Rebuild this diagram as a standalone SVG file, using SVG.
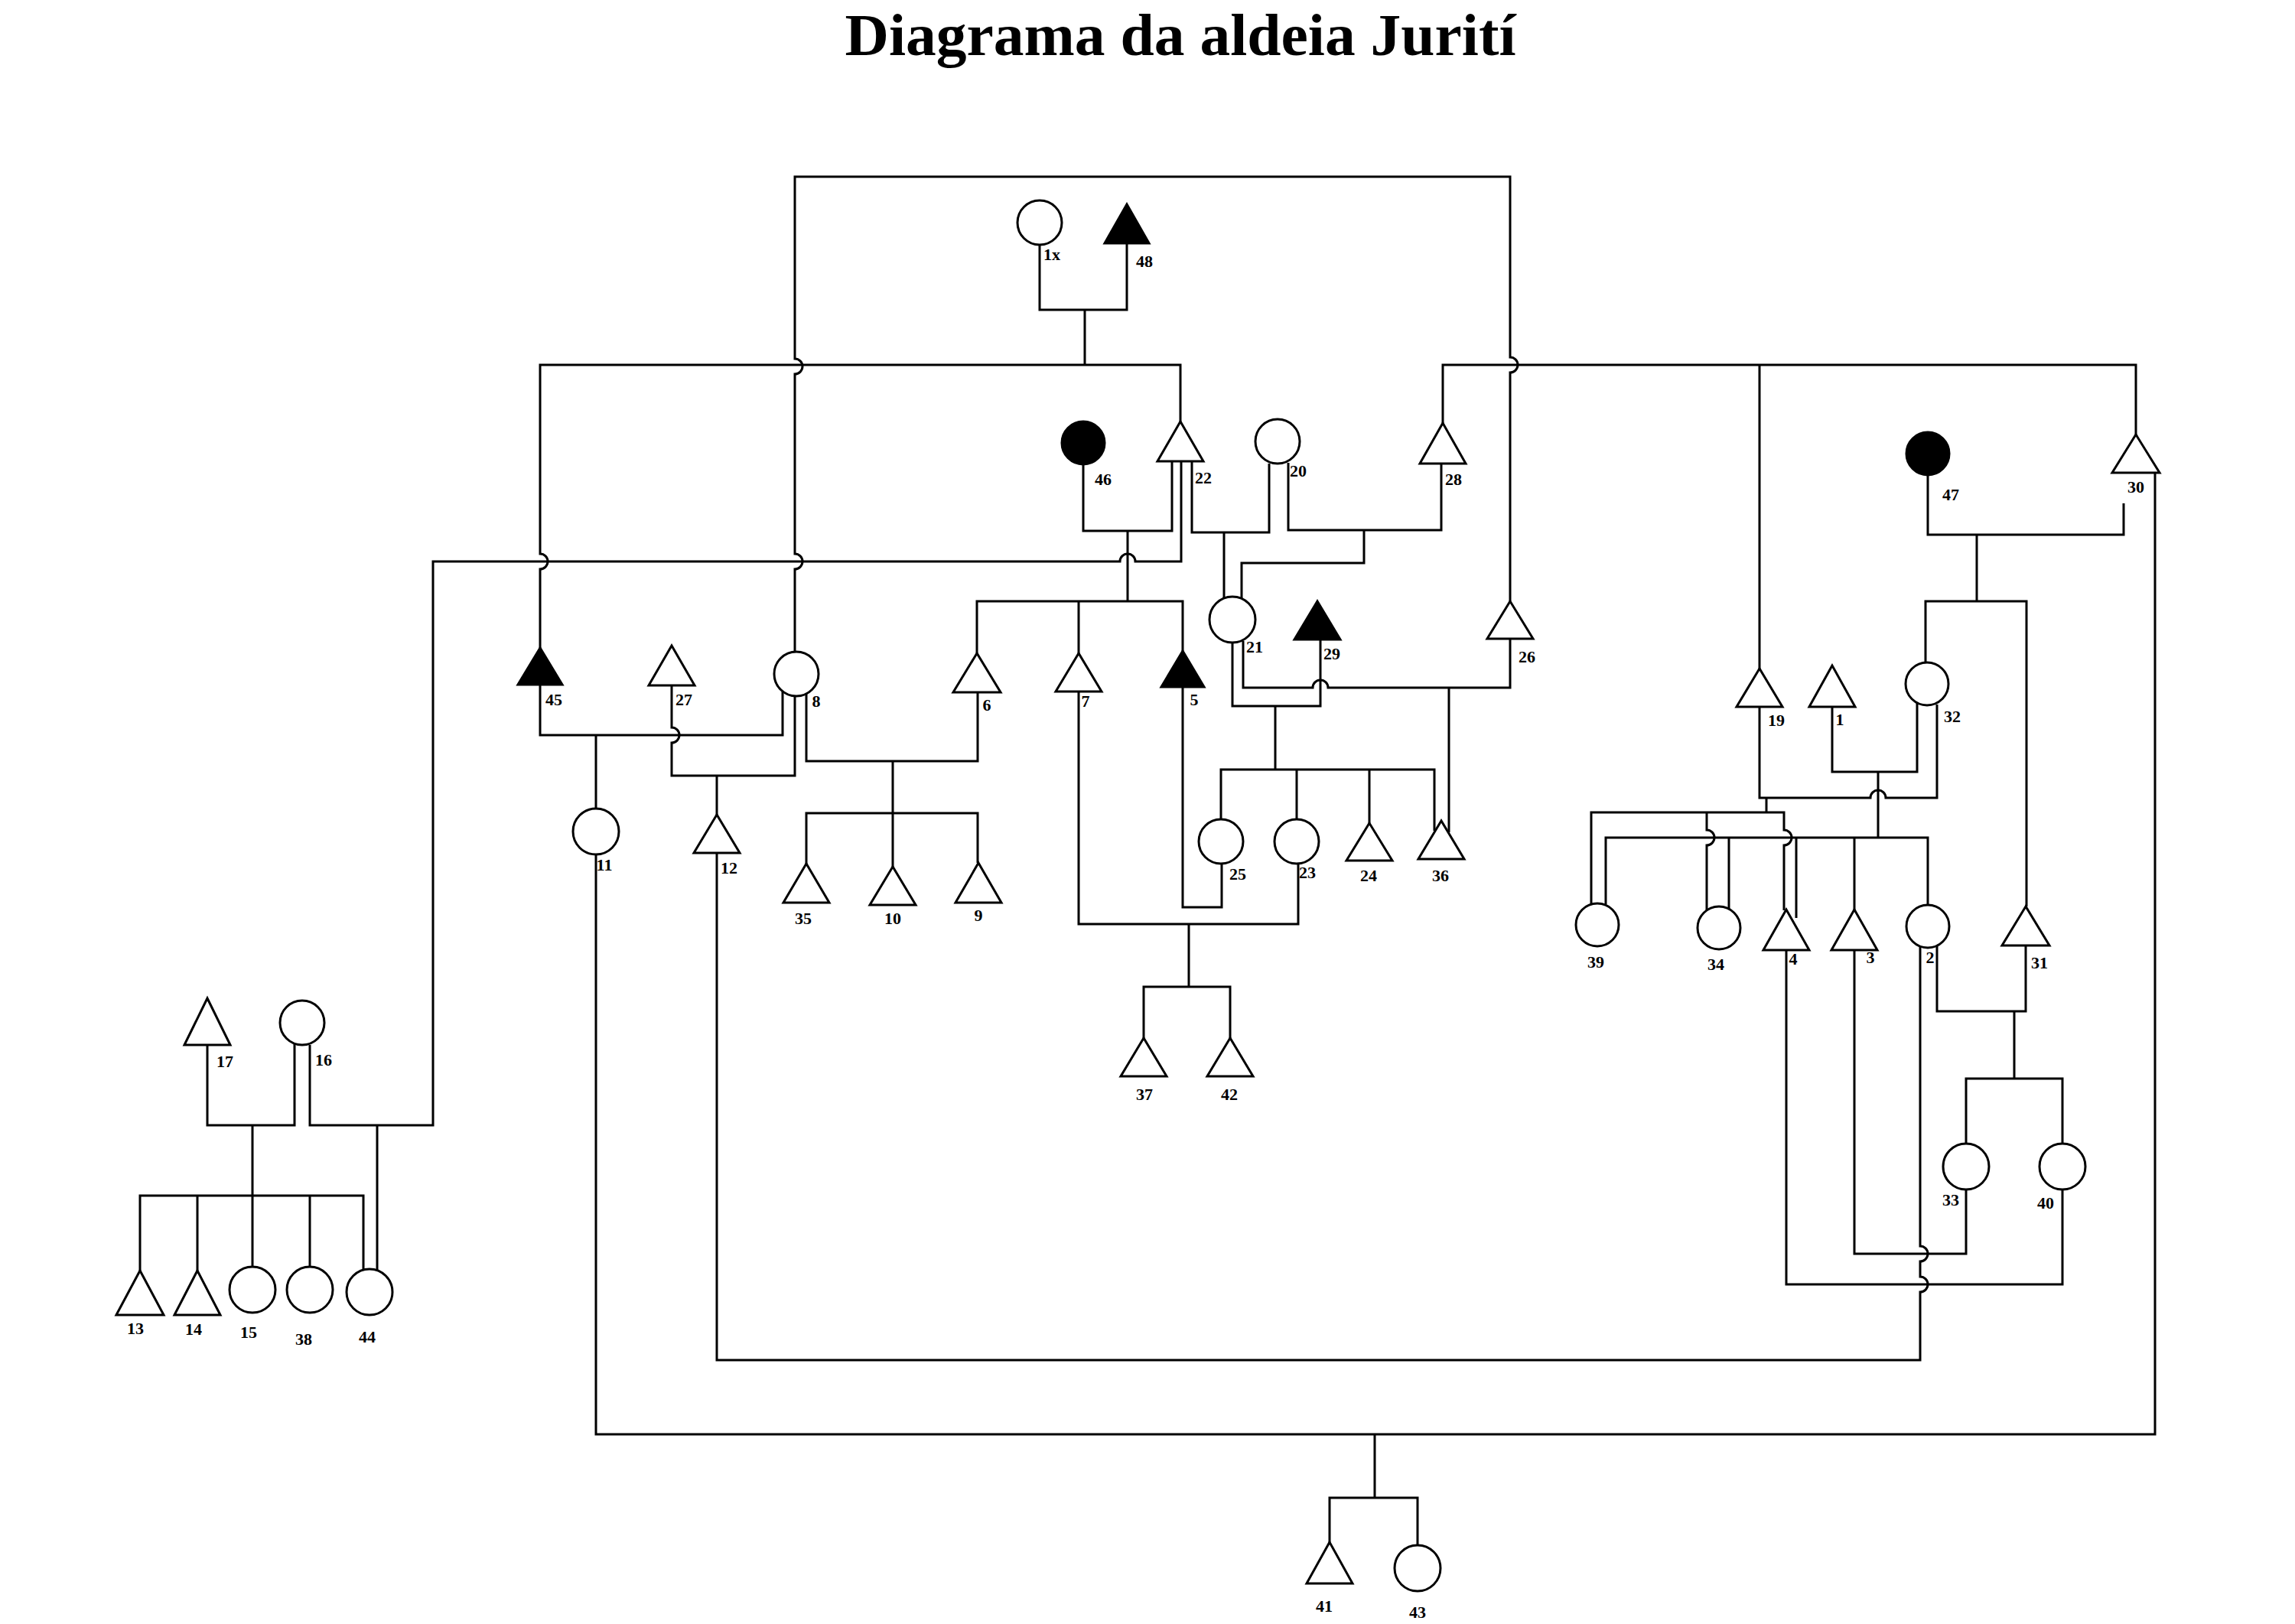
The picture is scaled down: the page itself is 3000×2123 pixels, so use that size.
<svg xmlns="http://www.w3.org/2000/svg" width="3000" height="2123" viewBox="0 0 3000 2123">
<style>
.ln{fill:none;stroke:#000;stroke-width:3}
.o{fill:#fff;stroke:#000;stroke-width:3}
.f{fill:#000;stroke:#000;stroke-width:3}
.lb{font-family:"Liberation Serif","Times New Roman",serif;font-weight:bold;font-size:22px;text-anchor:middle;fill:#000}
.t{font-family:"Liberation Serif","Times New Roman",serif;font-weight:bold;font-size:78px;text-anchor:middle;fill:#000}
</style>
<rect width="3000" height="2123" fill="#fff"/>
<text class="t" x="1543" y="72" textLength="877" lengthAdjust="spacingAndGlyphs">Diagrama da aldeia Jurití</text>
<g id="connectors" class="ln">
<path d="M1039,852 V744 A10 10 0 0 0 1039,724 V489 A10 10 0 0 0 1039,469 V231 H1974 V467 A10 10 0 0 1 1974,487 V786"/>
<path d="M1359,320 V405 H1473 V318 M1418,405 V477"/>
<path d="M706,847 V744 A10 10 0 0 0 706,724 V477 H1543 V551"/>
<path d="M1886,553 V477 H2792 V568 M2300,477 V874"/>
<path d="M1416,607 V694 H1532 V603 M1474,694 V786"/>
<path d="M1277,854 V786 H1546 V851 M1410,786 V854"/>
<path d="M1544,603 V734 H1484 A10 10 0 0 0 1464,734 H566 V1471 H405 V1366 M493,1471 V1661"/>
<path d="M1558,603 V696 H1659 V606 M1600,696 V782"/>
<path d="M1684,605 V693 H1884 V606 M1783,693 V736 H1623 V783"/>
<path d="M1611,840 V923 H1726 V836 M1667,923 V1006"/>
<path d="M1625,838 V899 H1716 A10 10 0 0 1 1736,899 H1974 V835 M1894,899 V1088"/>
<path d="M1596,1071 V1006 H1875 V1086 M1695,1006 V1071 M1790,1006 V1076"/>
<path d="M1546,898 V1186 H1597 V1129"/>
<path d="M1410,904 V1208 H1697 V1129 M1554,1208 V1290 M1495,1357 V1290 H1608 V1357"/>
<path d="M706,895 V961 H1023 V904 M779,961 V1057"/>
<path d="M878,896 V951 A10 10 0 0 1 878,971 V1014 H1039 V910 M937,1014 V1065"/>
<path d="M1054,906 V995 H1278 V905 M1167,995 V1133 M1054,1129 V1063 H1278 V1128"/>
<path d="M271,1366 V1471 H385 V1364 M330,1471 V1656 M183,1661 V1563 H475 V1661 M258,1563 V1661 M405,1563 V1656"/>
<path d="M779,1117 V1875 H2817 V618 M1797,1875 V1958 M1738,2016 V1958 H1853 V2020"/>
<path d="M937,1115 V1778 H2510 V1689 A10 10 0 0 0 2510,1669 V1649 A10 10 0 0 0 2510,1629 V1237"/>
<path d="M2424,1242 V1639 H2570 V1555"/>
<path d="M2335,1242 V1679 H2696 V1555"/>
<path d="M2532,1236 V1322 H2648 V1236 M2633,1322 V1410 M2570,1495 V1410 H2696 V1495"/>
<path d="M2520,621 V699 H2776 V658 M2584,699 V786 M2517,866 V786 H2649 V1185"/>
<path d="M2395,924 V1009 H2506 V919 M2455,1009 V1095"/>
<path d="M2300,924 V1043 H2445 A10 10 0 0 1 2465,1043 H2532 V921 M2309,1043 V1062"/>
<path d="M2080,1182 V1062 H2332 V1085 A10 10 0 0 1 2332,1105 V1190 M2231,1062 V1085 A10 10 0 0 1 2231,1105 V1190"/>
<path d="M2099,1182 V1095 H2520 V1183 M2260,1095 V1188 M2348,1095 V1200 M2424,1095 V1189"/>
</g>
<g id="n1x"><circle class="o" cx="1359" cy="291" r="29"/><text class="lb" x="1375" y="340">1x</text></g>
<g id="n48"><polygon class="f" points="1473,267 1444,318 1502,318"/><text class="lb" x="1496" y="349">48</text></g>
<g id="n46"><circle class="f" cx="1416" cy="579" r="28"/><text class="lb" x="1442" y="634">46</text></g>
<g id="n22"><polygon class="o" points="1543,551 1513,603 1573,603"/><text class="lb" x="1573" y="632">22</text></g>
<g id="n20"><circle class="o" cx="1670" cy="577" r="29"/><text class="lb" x="1697" y="623">20</text></g>
<g id="n28"><polygon class="o" points="1886,553 1856,606 1916,606"/><text class="lb" x="1900" y="634">28</text></g>
<g id="n45"><polygon class="f" points="706,847 677,895 735,895"/><text class="lb" x="724" y="922">45</text></g>
<g id="n27"><polygon class="o" points="878,844 848,896 908,896"/><text class="lb" x="894" y="922">27</text></g>
<g id="n8"><circle class="o" cx="1041" cy="881" r="29"/><text class="lb" x="1067" y="924">8</text></g>
<g id="n6"><polygon class="o" points="1277,854 1246,905 1308,905"/><text class="lb" x="1290" y="929">6</text></g>
<g id="n7"><polygon class="o" points="1410,854 1380,904 1440,904"/><text class="lb" x="1419" y="924">7</text></g>
<g id="n5"><polygon class="f" points="1546,851 1518,898 1574,898"/><text class="lb" x="1561" y="922">5</text></g>
<g id="n21"><circle class="o" cx="1611" cy="810" r="30"/><text class="lb" x="1640" y="853">21</text></g>
<g id="n29"><polygon class="f" points="1722,786 1692,836 1752,836"/><text class="lb" x="1741" y="862">29</text></g>
<g id="n26"><polygon class="o" points="1974,786 1944,835 2004,835"/><text class="lb" x="1996" y="866">26</text></g>
<g id="n25"><circle class="o" cx="1596" cy="1100" r="29"/><text class="lb" x="1618" y="1150">25</text></g>
<g id="n23"><circle class="o" cx="1695" cy="1100" r="29"/><text class="lb" x="1709" y="1148">23</text></g>
<g id="n24"><polygon class="o" points="1790,1076 1760,1125 1820,1125"/><text class="lb" x="1789" y="1152">24</text></g>
<g id="n36"><polygon class="o" points="1884,1073 1854,1123 1914,1123"/><text class="lb" x="1883" y="1152">36</text></g>
<g id="n37"><polygon class="o" points="1495,1357 1465,1407 1525,1407"/><text class="lb" x="1496" y="1438">37</text></g>
<g id="n42"><polygon class="o" points="1608,1357 1578,1407 1638,1407"/><text class="lb" x="1607" y="1438">42</text></g>
<g id="n11"><circle class="o" cx="779" cy="1087" r="30"/><text class="lb" x="790" y="1138">11</text></g>
<g id="n12"><polygon class="o" points="937,1065 907,1115 967,1115"/><text class="lb" x="953" y="1142">12</text></g>
<g id="n35"><polygon class="o" points="1054,1129 1024,1180 1084,1180"/><text class="lb" x="1050" y="1208">35</text></g>
<g id="n10"><polygon class="o" points="1167,1133 1137,1183 1197,1183"/><text class="lb" x="1167" y="1208">10</text></g>
<g id="n9"><polygon class="o" points="1279,1128 1249,1180 1309,1180"/><text class="lb" x="1279" y="1204">9</text></g>
<g id="n17"><polygon class="o" points="271,1305 241,1366 301,1366"/><text class="lb" x="294" y="1395">17</text></g>
<g id="n16"><circle class="o" cx="395" cy="1337" r="29"/><text class="lb" x="423" y="1393">16</text></g>
<g id="n13"><polygon class="o" points="183,1661 152,1719 214,1719"/><text class="lb" x="177" y="1744">13</text></g>
<g id="n14"><polygon class="o" points="258,1661 228,1719 288,1719"/><text class="lb" x="253" y="1745">14</text></g>
<g id="n15"><circle class="o" cx="330" cy="1686" r="30"/><text class="lb" x="325" y="1749">15</text></g>
<g id="n38"><circle class="o" cx="405" cy="1686" r="30"/><text class="lb" x="397" y="1758">38</text></g>
<g id="n44"><circle class="o" cx="483" cy="1689" r="30"/><text class="lb" x="480" y="1755">44</text></g>
<g id="n47"><circle class="f" cx="2520" cy="593" r="28"/><text class="lb" x="2550" y="654">47</text></g>
<g id="n30"><polygon class="o" points="2792,568 2761,618 2823,618"/><text class="lb" x="2792" y="644">30</text></g>
<g id="n19"><polygon class="o" points="2300,874 2270,924 2330,924"/><text class="lb" x="2322" y="949">19</text></g>
<g id="n1"><polygon class="o" points="2395,870 2365,924 2425,924"/><text class="lb" x="2405" y="948">1</text></g>
<g id="n32"><circle class="o" cx="2519" cy="894" r="28"/><text class="lb" x="2552" y="944">32</text></g>
<g id="n39"><circle class="o" cx="2088" cy="1209" r="28"/><text class="lb" x="2086" y="1265">39</text></g>
<g id="n34"><circle class="o" cx="2247" cy="1213" r="28"/><text class="lb" x="2243" y="1268">34</text></g>
<g id="n4"><polygon class="o" points="2335,1189 2305,1242 2365,1242"/><text class="lb" x="2344" y="1261">4</text></g>
<g id="n3"><polygon class="o" points="2424,1189 2394,1242 2454,1242"/><text class="lb" x="2445" y="1259">3</text></g>
<g id="n2"><circle class="o" cx="2520" cy="1211" r="28"/><text class="lb" x="2523" y="1259">2</text></g>
<g id="n31"><polygon class="o" points="2648,1185 2617,1236 2679,1236"/><text class="lb" x="2666" y="1266">31</text></g>
<g id="n33"><circle class="o" cx="2570" cy="1525" r="30"/><text class="lb" x="2550" y="1576">33</text></g>
<g id="n40"><circle class="o" cx="2696" cy="1525" r="30"/><text class="lb" x="2674" y="1580">40</text></g>
<g id="n41"><polygon class="o" points="1738,2016 1708,2070 1768,2070"/><text class="lb" x="1731" y="2107">41</text></g>
<g id="n43"><circle class="o" cx="1853" cy="2050" r="30"/><text class="lb" x="1853" y="2115">43</text></g>
</svg>
